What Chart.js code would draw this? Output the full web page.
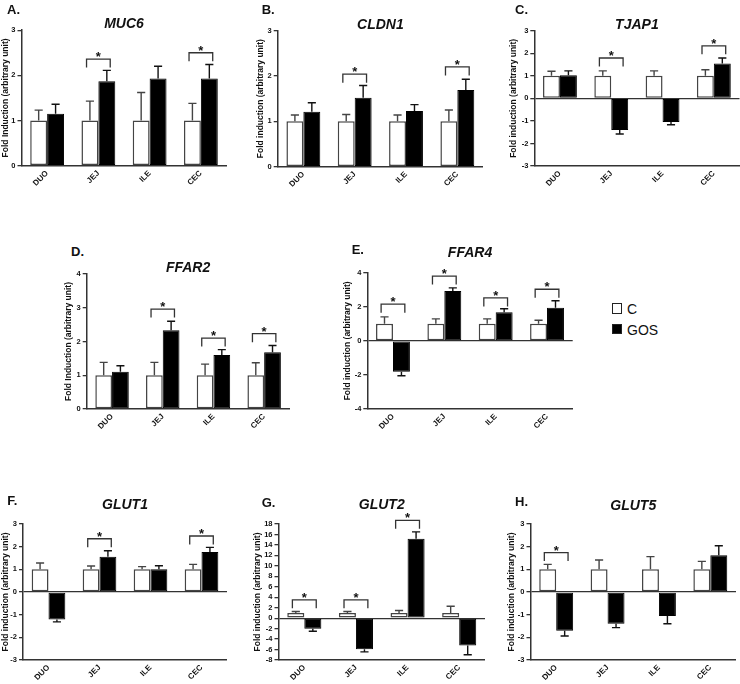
<!DOCTYPE html>
<html><head><meta charset="utf-8">
<script src="https://cdn.jsdelivr.net/npm/chart.js@4/dist/chart.umd.min.js"></script>
<style>
html,body{margin:0;padding:0;background:#fff;}
#wrap{position:relative;width:740px;height:684px;overflow:hidden;font-family:Arial,"Liberation Sans",Helvetica,sans-serif;}
canvas{position:absolute;}
.letter{position:absolute;font-weight:bold;font-size:13px;line-height:13px;color:#111;white-space:nowrap;}
.lgbox{position:absolute;width:8.5px;height:8.5px;border:1.2px solid #222;}
.lgtxt{position:absolute;font-size:14px;line-height:14px;color:#111;white-space:nowrap;}
</style></head>
<body><div id="wrap"></div>
<script>
const categories = ['DUO', 'JEJ', 'ILE', 'CEC'];
const seriesLabels = ['C', 'GOS'];

// A. MUC6
const muc6_C = [1.00, 1.00, 1.00, 1.00];
const muc6_C_sem = [0.23, 0.43, 0.62, 0.38];
const muc6_GOS = [1.15, 1.87, 1.93, 1.93];
const muc6_GOS_sem = [0.21, 0.24, 0.27, 0.31];
const muc6_sig = ['JEJ', 'CEC'];
const muc6_sigLevel = [2.36, 2.50];
const muc6_ticks = [0, 1, 2, 3];

// B. CLDN1
const cldn1_C = [1.00, 1.00, 1.00, 1.00];
const cldn1_C_sem = [0.14, 0.15, 0.14, 0.25];
const cldn1_GOS = [1.21, 1.52, 1.23, 1.69];
const cldn1_GOS_sem = [0.20, 0.27, 0.14, 0.24];
const cldn1_sig = ['JEJ', 'CEC'];
const cldn1_sigLevel = [2.04, 2.20];
const cldn1_ticks = [0, 1, 2, 3];

// C. TJAP1
const tjap1_C = [1.00, 1.00, 1.00, 1.00];
const tjap1_C_sem = [0.20, 0.22, 0.22, 0.27];
const tjap1_GOS = [1.02, -1.40, -1.05, 1.55];
const tjap1_GOS_sem = [0.20, 0.18, 0.12, 0.24];
const tjap1_sig = ['JEJ', 'CEC'];
const tjap1_sigLevel = [1.79, 2.33];
const tjap1_ticks = [-3, -2, -1, 0, 1, 2, 3];

// D. FFAR2
const ffar2_C = [1.00, 1.00, 1.00, 1.00];
const ffar2_C_sem = [0.38, 0.38, 0.33, 0.37];
const ffar2_GOS = [1.10, 2.33, 1.60, 1.68];
const ffar2_GOS_sem = [0.18, 0.27, 0.16, 0.20];
const ffar2_sig = ['JEJ', 'ILE', 'CEC'];
const ffar2_sigLevel = [2.96, 2.10, 2.23];
const ffar2_ticks = [0, 1, 2, 3, 4];

// E. FFAR4
const ffar4_C = [1.00, 1.00, 1.00, 1.00];
const ffar4_C_sem = [0.41, 0.29, 0.29, 0.21];
const ffar4_GOS = [-1.82, 2.92, 1.68, 1.94];
const ffar4_GOS_sem = [0.23, 0.19, 0.20, 0.41];
const ffar4_sig = ['DUO', 'JEJ', 'ILE', 'CEC'];
const ffar4_sigLevel = [2.15, 3.80, 2.52, 3.03];
const ffar4_ticks = [-4, -2, 0, 2, 4];

// F. GLUT1
const glut1_C = [1.00, 1.00, 1.00, 1.00];
const glut1_C_sem = [0.28, 0.15, 0.12, 0.22];
const glut1_GOS = [-1.21, 1.56, 1.00, 1.76];
const glut1_GOS_sem = [0.11, 0.26, 0.16, 0.21];
const glut1_sig = ['JEJ', 'CEC'];
const glut1_sigLevel = [2.35, 2.47];
const glut1_ticks = [-3, -2, -1, 0, 1, 2, 3];

// G. GLUT2
const glut2_C = [1.00, 1.00, 1.00, 1.00];
const glut2_C_sem = [0.27, 0.27, 0.46, 1.29];
const glut2_GOS = [-2.04, -5.93, 15.17, -5.23];
const glut2_GOS_sem = [0.46, 0.51, 1.33, 1.77];
const glut2_sig = ['DUO', 'JEJ', 'ILE'];
const glut2_sigLevel = [3.5, 3.5, 18.7];
const glut2_ticks = [-8, -6, -4, -2, 0, 2, 4, 6, 8, 10, 12, 14, 16, 18];

// H. GLUT5
const glut5_C = [1.00, 1.00, 1.00, 1.00];
const glut5_C_sem = [0.22, 0.41, 0.56, 0.35];
const glut5_GOS = [-1.71, -1.40, -1.06, 1.62];
const glut5_GOS_sem = [0.23, 0.17, 0.34, 0.42];
const glut5_sig = ['DUO'];
const glut5_sigLevel = [1.74];
const glut5_ticks = [-3, -2, -1, 0, 1, 2, 3];

const FONT = 'Arial, "Liberation Sans", Helvetica, sans-serif';
const INK = '#111';
const AXIS = '#333';

const panels = [
  {letter:'A.', gene:'MUC6', yTitle:'Fold Induction (arbitrary unit)', c:muc6_C, cSem:muc6_C_sem, g:muc6_GOS, gSem:muc6_GOS_sem, sig:muc6_sig, sigLevel:muc6_sigLevel, ticks:muc6_ticks,
   box:{L:21.5, R:226.5, T:30, B:165.7, titleY:24.2, yDist:15, lx:7, ly:9.5}},
  {letter:'B.', gene:'CLDN1', yTitle:'Fold induction (arbitrary unit)', c:cldn1_C, cSem:cldn1_C_sem, g:cldn1_GOS, gSem:cldn1_GOS_sem, sig:cldn1_sig, sigLevel:cldn1_sigLevel, ticks:cldn1_ticks,
   box:{L:277.7, R:483, T:30.7, B:166.7, titleY:24.7, yDist:16, lx:261.7, ly:9.5}},
  {letter:'C.', gene:'TJAP1', yTitle:'Fold induction (arbitrary unit)', c:tjap1_C, cSem:tjap1_C_sem, g:tjap1_GOS, gSem:tjap1_GOS_sem, sig:tjap1_sig, sigLevel:tjap1_sigLevel, ticks:tjap1_ticks,
   box:{L:534.3, R:739.5, T:30.7, B:166, titleY:24.7, yDist:19.3, lx:515, ly:9.5}},
  {letter:'D.', gene:'FFAR2', yTitle:'Fold Induction (arbitrary unit)', c:ffar2_C, cSem:ffar2_C_sem, g:ffar2_GOS, gSem:ffar2_GOS_sem, sig:ffar2_sig, sigLevel:ffar2_sigLevel, ticks:ffar2_ticks,
   box:{L:86.7, R:289.5, T:273.3, B:409, titleY:268, yDist:16.7, lx:71, ly:251}},
  {letter:'E.', gene:'FFAR4', yTitle:'Fold induction (arbitrary unit)', c:ffar4_C, cSem:ffar4_C_sem, g:ffar4_GOS, gSem:ffar4_GOS_sem, sig:ffar4_sig, sigLevel:ffar4_sigLevel, ticks:ffar4_ticks,
   box:{L:367.3, R:572.7, T:272.7, B:409, titleY:253, yDist:19, lx:351.7, ly:249}},
  {letter:'F.', gene:'GLUT1', yTitle:'Fold induction (arbitrary unit)', c:glut1_C, cSem:glut1_C_sem, g:glut1_GOS, gSem:glut1_GOS_sem, sig:glut1_sig, sigLevel:glut1_sigLevel, ticks:glut1_ticks,
   box:{L:23, R:227, T:524, B:660, titleY:505, yDist:16, lx:7.3, ly:500.5}},
  {letter:'G.', gene:'GLUT2', yTitle:'Fold induction (arbitrary unit)', c:glut2_C, cSem:glut2_C_sem, g:glut2_GOS, gSem:glut2_GOS_sem, sig:glut2_sig, sigLevel:glut2_sigLevel, ticks:glut2_ticks,
   box:{L:278.5, R:485, T:524, B:660, titleY:505, yDist:20, lx:261.7, ly:502}},
  {letter:'H.', gene:'GLUT5', yTitle:'Fold induction (arbitrary unit)', c:glut5_C, cSem:glut5_C_sem, g:glut5_GOS, gSem:glut5_GOS_sem, sig:glut5_sig, sigLevel:glut5_sigLevel, ticks:glut5_ticks,
   box:{L:530.5, R:736, T:524, B:660, titleY:505.8, yDist:17.6, lx:515, ly:501}}
];

const errorBars = {
  id: 'errorBars',
  afterDatasetsDraw(chart) {
    const ctx = chart.ctx, ys = chart.scales.y;
    chart.data.datasets.forEach((ds, i) => {
      const meta = chart.getDatasetMeta(i);
      meta.data.forEach((bar, j) => {
        const v = ds.data[j], e = ds.sem[j];
        const end = v >= 0 ? v + e : v - e;
        const y0 = ys.getPixelForValue(v), y1 = ys.getPixelForValue(end);
        const half = bar.width * 0.24;
        ctx.save();
        ctx.strokeStyle = ds.errColor;
        ctx.lineWidth = 1.4;
        ctx.beginPath();
        ctx.moveTo(bar.x, y0); ctx.lineTo(bar.x, y1);
        ctx.moveTo(bar.x - half, y1); ctx.lineTo(bar.x + half, y1);
        ctx.stroke();
        ctx.restore();
      });
    });
  }
};

const sigBrackets = {
  id: 'sigBrackets',
  afterDatasetsDraw(chart, args, opts) {
    const cats = opts.cats || [], levels = opts.levels || [];
    const ys = chart.scales.y, ctx = chart.ctx;
    cats.forEach((c, k) => {
      const j = chart.data.labels.indexOf(c);
      const a = chart.getDatasetMeta(0).data[j], b = chart.getDatasetMeta(1).data[j];
      const x0 = a.x - a.width * 0.2, x1 = b.x + b.width * 0.2;
      const yb = ys.getPixelForValue(levels[k]);
      ctx.save();
      ctx.strokeStyle = AXIS; ctx.lineWidth = 1.3;
      ctx.beginPath();
      ctx.moveTo(x0, yb + 8.5); ctx.lineTo(x0, yb); ctx.lineTo(x1, yb); ctx.lineTo(x1, yb + 8.5);
      ctx.stroke();
      ctx.fillStyle = INK;
      ctx.font = 'bold 13px ' + FONT;
      ctx.textAlign = 'center'; ctx.textBaseline = 'alphabetic';
      ctx.fillText('*', (x0 + x1) / 2, yb + 2);
      ctx.restore();
    });
  }
};

const wrap = document.getElementById('wrap');
const TITLE_LH = 0.85, TITLE_SIZE = 14, YT_SIZE = 8.5;

panels.forEach(p => {
  const b = p.box;
  const XH = 30;
  const titleLine = TITLE_SIZE * TITLE_LH;
  const canvasLeft = Math.floor(b.L - b.yDist - YT_SIZE * 1.2 / 2);
  const yW = b.L - canvasLeft;
  const width = Math.ceil(b.R - canvasLeft);
  const padRight = width - (b.R - canvasLeft);
  const canvasTop = Math.floor(b.titleY - titleLine / 2 - 2);
  const tPadTop = b.titleY - titleLine / 2 - canvasTop;
  const tPadBottom = Math.max(0, b.T - b.titleY - titleLine / 2);
  const height = Math.ceil(b.B + XH - canvasTop);
  const xH = canvasTop + height - b.B;
  const yMin = p.ticks[0], yMax = p.ticks[p.ticks.length - 1];

  const cv = document.createElement('canvas');
  cv.width = width; cv.height = height;
  cv.style.left = canvasLeft + 'px'; cv.style.top = canvasTop + 'px';
  cv.style.width = width + 'px'; cv.style.height = height + 'px';
  wrap.appendChild(cv);

  const lt = document.createElement('div');
  lt.className = 'letter';
  lt.textContent = p.letter;
  lt.style.left = b.lx + 'px';
  lt.style.top = (b.ly - 6.35) + 'px';
  wrap.appendChild(lt);

  new Chart(cv, {
    type: 'bar',
    data: {
      labels: categories,
      datasets: [
        {label: seriesLabels[0], data: p.c, sem: p.cSem, errColor: '#444', backgroundColor: '#ffffff', borderColor: '#444', borderWidth: 1.5, borderSkipped: false,
         categoryPercentage: 0.66, barPercentage: 1.0},
        {label: seriesLabels[1], data: p.g, sem: p.gSem, errColor: '#111', backgroundColor: '#000000', borderColor: '#000000', borderWidth: 1, borderSkipped: false,
         categoryPercentage: 0.66, barPercentage: 1.0}
      ]
    },
    options: {
      responsive: false, animation: false, devicePixelRatio: 1,
      events: [],
      layout: {padding: {left: 0, top: 0, right: padRight, bottom: 0}},
      plugins: {
        legend: {display: false},
        tooltip: {enabled: false},
        title: {display: true, text: p.gene, fullSize: false, color: INK,
                font: {family: FONT, size: TITLE_SIZE, weight: 'bold', style: 'italic', lineHeight: TITLE_LH},
                padding: {top: tPadTop, bottom: tPadBottom}},
        sigBrackets: {cats: p.sig, levels: p.sigLevel}
      },
      scales: {
        x: {
          grid: {display: false, drawTicks: false},
          border: {display: true, color: AXIS, width: 1.5},
          ticks: {font: {family: FONT, size: 8, weight: 'bold'}, color: INK, minRotation: 45, maxRotation: 45, padding: 3, autoSkip: false},
          afterFit: s => { s.height = xH; }
        },
        y: {
          min: yMin, max: yMax,
          afterBuildTicks: s => { s.ticks = p.ticks.map(v => ({value: v})); },
          ticks: {font: {family: FONT, size: 7.5, weight: 'bold'}, color: INK, padding: 2, autoSkip: false},
          grid: {color: ctx => (ctx.tick && ctx.tick.value === 0 && yMin < 0) ? AXIS : 'rgba(0,0,0,0)',
                 lineWidth: 1.3, tickColor: AXIS, tickLength: 4, drawTicks: true},
          border: {display: true, color: AXIS, width: 1.5},
          title: {display: true, text: p.yTitle, color: INK, font: {family: FONT, size: YT_SIZE, weight: 'bold'}, padding: 0},
          afterFit: s => { s.width = yW; }
        }
      }
    },
    plugins: [errorBars, sigBrackets]
  });
});

// Legend (C / GOS)
const legendItems = [
  {label: seriesLabels[0], fill: '#ffffff', top: 303.3, textTop: 302},
  {label: seriesLabels[1], fill: '#000000', top: 323.5, textTop: 323}
];
legendItems.forEach(it => {
  const bx = document.createElement('div');
  bx.className = 'lgbox';
  bx.style.left = '611.7px'; bx.style.top = it.top + 'px';
  bx.style.background = it.fill;
  wrap.appendChild(bx);
  const tx = document.createElement('div');
  tx.className = 'lgtxt';
  tx.textContent = it.label;
  tx.style.left = '627px'; tx.style.top = it.textTop + 'px';
  wrap.appendChild(tx);
});
</script>
</body></html>
